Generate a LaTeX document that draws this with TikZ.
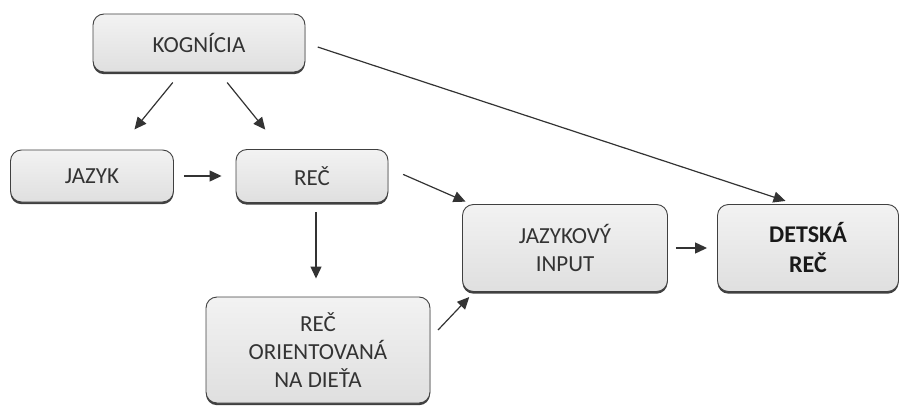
\documentclass[tikz,border=0pt]{standalone}
\usepackage{fontspec}
\setmainfont{Carlito}
\usetikzlibrary{shadows}
\usetikzlibrary{arrows.meta}

\begin{document}
\begin{tikzpicture}[x=1pt,y=-1pt,>={Triangle[length=12pt,width=11pt]},
		box/.style={draw=black!75,
				line width=0.9pt,
				rounded corners=11pt,
				top color=gray!10,
				bottom color=gray!25,
				text=black!80,
				drop shadow={shadow xshift=0pt,shadow yshift=-2.2pt,fill=black!75,opacity=1},
				inner sep=0pt,
				align=center,
				font=\fontsize{23}{28}\selectfont},
		conn/.style={->,draw=black!80,line width=1.2pt}]
			\useasboundingbox (0,0) rectangle (901,406);
			\node[box,minimum width=212pt,minimum height=58pt] (kog) at (199,43) {KOGNÍCIA};
			\node[box,minimum width=163pt,minimum height=52pt] (jaz) at (92,176) {JAZYK};
			\node[box,minimum width=152pt,minimum height=53pt] (rec) at (312,176) {REČ};
			\node[box,minimum width=224pt,minimum height=106pt] (ori) at (318,350) {REČ\\ORIENTOVANÁ\\NA DIEŤA};
			\node[box,minimum width=205pt,minimum height=87pt] (inp) at (565,248) {JAZYKOVÝ\\INPUT};
			\node[box,minimum width=181pt,minimum height=87pt,text=black!90,font=\fontsize{24}{30}\selectfont\bfseries] (det) at (808,248) {DETSKÁ\\REČ};
			\draw[conn,shorten <=13pt,shorten >=26pt] ([xshift=-18pt]kog.south)--([xshift=26pt]jaz.north);
			\draw[conn,shorten <=13pt,shorten >=25pt] ([xshift=20pt]kog.south)--([xshift=-31pt]rec.north);
			\draw[conn,shorten <=13pt,shorten >=10pt] (kog.east)--([xshift=-13pt]det.north);
			\draw[conn,shorten <=10pt,shorten >=14pt] (jaz.east)--(rec.west);
			\draw[conn,shorten <=16pt,shorten >=6pt] ([yshift=8pt]rec.east)--([xshift=9pt]inp.north west);
			\draw[conn,shorten <=9pt,shorten >=18pt] ([xshift=4pt]rec.south)--([xshift=-2pt]ori.north);
			\draw[conn,shorten <=11pt,shorten >=7pt] ([yshift=12pt]ori.east)--([xshift=12pt]inp.south west);
			\draw[conn,shorten <=8pt,shorten >=10pt] (inp.east)--(det.west);
		\end{tikzpicture}
\end{document}
